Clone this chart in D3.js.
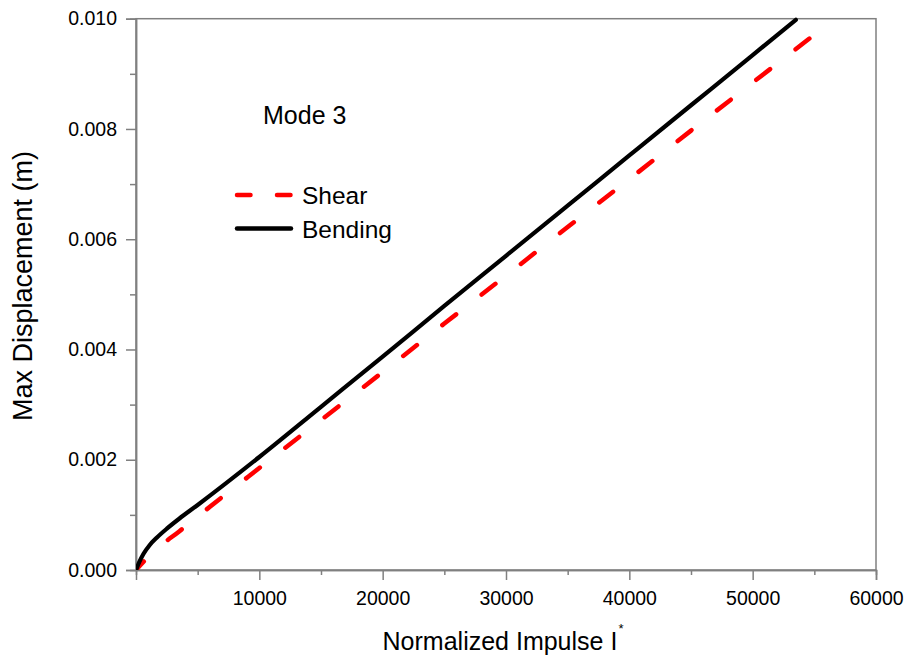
<!DOCTYPE html>
<html>
<head>
<meta charset="utf-8">
<script src="https://cdn.jsdelivr.net/npm/d3@7"></script>
<style>
  html, body { margin: 0; padding: 0; background: #fff; }
  svg { display: block; font-family: "Liberation Sans", Arial, sans-serif; }
</style>
</head>
<body>
<svg id="chart" width="908" height="660"></svg>
<script>
// Bending response: normalized impulse vs. max displacement (m)
const bendingImpulse = [0, 300, 600, 1100, 1700, 2500, 3500, 5000, 10000, 15000, 20000, 25000, 30000, 35000, 40000, 45000, 50000, 53500];
const bendingDisp    = [0, 0.00016, 0.00029, 0.00045, 0.00059, 0.00075, 0.00093, 0.00118, 0.00205, 0.00296, 0.00387, 0.00479, 0.00570, 0.00661, 0.00752, 0.00843, 0.00934, 0.00998];

// Shear response
const shearImpulse = [0, 700, 2000, 3500, 5000, 10000, 15000, 20000, 25000, 30000, 35000, 40000, 45000, 50000, 54600];
const shearDisp    = [0, 0.00017, 0.00044, 0.00070, 0.00097, 0.00185, 0.00272, 0.00359, 0.00447, 0.00534, 0.00622, 0.00709, 0.00797, 0.00884, 0.00964];

const xTicks = [10000, 20000, 30000, 40000, 50000, 60000];
const xMinorTicks = [5000, 15000, 25000, 35000, 45000, 55000];
const yTicks = [0, 0.002, 0.004, 0.006, 0.008, 0.010];
const yMinorTicks = [0.001, 0.003, 0.005, 0.007, 0.009];

const seriesNames = ["Shear", "Bending"];
const annotation = "Mode 3";

const svg = d3.select("#chart");
const plotLeft = 136, plotRight = 876, plotTop = 18.7, plotBottom = 570;

const x = d3.scaleLinear().domain([0, 60000]).range([plotLeft, plotRight]);
const y = d3.scaleLinear().domain([0, 0.01]).range([plotBottom, plotTop]);

const axisColor = "#808080";

// frame (top and right edges)
svg.append("rect")
  .attr("x", plotLeft).attr("y", plotTop)
  .attr("width", plotRight - plotLeft).attr("height", plotBottom - plotTop)
  .attr("fill", "none").attr("stroke", axisColor).attr("stroke-width", 1.5);

// x axis
const gx = svg.append("g").attr("transform", `translate(0,${plotBottom})`);
gx.call(d3.axisBottom(x).tickValues(xTicks).tickSize(10).tickPadding(11).tickFormat(d3.format("d")));
gx.append("g").call(d3.axisBottom(x).tickValues(xMinorTicks).tickSize(5).tickFormat(""));

// y axis
const gy = svg.append("g").attr("transform", `translate(${plotLeft},0)`);
gy.call(d3.axisLeft(y).tickValues(yTicks).tickSize(10).tickPadding(9).tickFormat(d3.format(".3f")));
gy.append("g").call(d3.axisLeft(y).tickValues(yMinorTicks).tickSize(6).tickFormat(""));

svg.selectAll(".domain").attr("stroke", axisColor).attr("stroke-width", 1.5);
svg.selectAll(".tick line").attr("stroke", axisColor).attr("stroke-width", 1.5);
svg.selectAll(".tick text")
  .attr("fill", "#000")
  .style("font-size", "19.5px")
  .style("font-family", "'Liberation Sans', Arial, sans-serif");

// clip lines to plot area
svg.append("clipPath").attr("id", "plotClip")
  .append("rect").attr("x", plotLeft).attr("y", plotTop - 3)
  .attr("width", plotRight - plotLeft).attr("height", plotBottom - plotTop + 3);

const line = d3.line().x(d => x(d[0])).y(d => y(d[1])).curve(d3.curveMonotoneX);

const shearPts = shearImpulse.map((v, i) => [v, shearDisp[i]]);
const bendPts = bendingImpulse.map((v, i) => [v, bendingDisp[i]]);

const plot = svg.append("g").attr("clip-path", "url(#plotClip)");

const shearPath = plot.append("path")
  .datum(shearPts)
  .attr("d", line)
  .attr("fill", "none")
  .attr("stroke", "#ff0000")
  .attr("stroke-width", 4.5)
  .attr("stroke-linecap", "round");

// dash pattern: short lead-in dash at the origin, full dash at the end of the curve
const dashLen = 17.5, dashOffset = 6, leadIn = dashLen - dashOffset;
const totalLen = shearPath.node().getTotalLength();
const nPeriods = Math.round((totalLen - leadIn) / 48.5);
const period = (totalLen - leadIn) / nPeriods;
shearPath
  .attr("stroke-dasharray", `${dashLen},${period - dashLen}`)
  .attr("stroke-dashoffset", dashOffset);

plot.append("path")
  .datum(bendPts)
  .attr("d", line)
  .attr("fill", "none")
  .attr("stroke", "#000")
  .attr("stroke-width", 4.2)
  .attr("stroke-linecap", "round");

// axis titles
const xt = svg.append("text")
  .attr("x", 503).attr("y", 650)
  .attr("text-anchor", "middle")
  .style("font-size", "25px")
  .attr("fill", "#000");
xt.append("tspan").text("Normalized Impulse I");
xt.append("tspan").text("*").style("font-size", "13px").attr("dy", -17).attr("dx", 1);

svg.append("text")
  .attr("transform", `translate(32,286) rotate(-90)`)
  .attr("text-anchor", "middle")
  .style("font-size", "27px")
  .attr("fill", "#000")
  .text("Max Displacement (m)");

// annotation
svg.append("text")
  .attr("x", 263).attr("y", 124)
  .style("font-size", "25px")
  .attr("fill", "#000")
  .text(annotation);

// legend
const legend = svg.append("g");
const legendRows = [
  { name: seriesNames[0], color: "#ff0000", dash: "13.5,26.5", y: 195 },
  { name: seriesNames[1], color: "#000000", dash: null, y: 228.5 }
];
legendRows.forEach(r => {
  legend.append("line")
    .attr("x1", 237).attr("x2", 291)
    .attr("y1", r.y).attr("y2", r.y)
    .attr("stroke", r.color)
    .attr("stroke-width", 4.5)
    .attr("stroke-linecap", "round")
    .attr("stroke-dasharray", r.dash);
  legend.append("text")
    .attr("x", 302).attr("y", r.y + 9)
    .style("font-size", "24.5px")
    .attr("fill", "#000")
    .text(r.name);
});
</script>
</body>
</html>
